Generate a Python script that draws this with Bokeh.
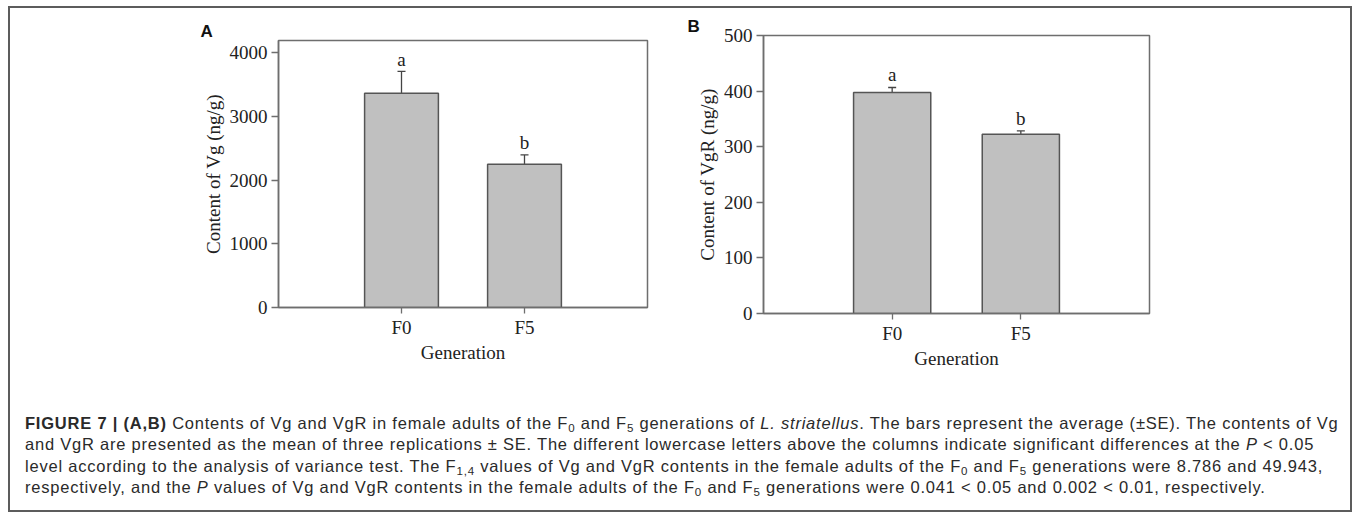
from bokeh.plotting import figure
from bokeh.models import (FactorRange, Range1d, FixedTicker, ColumnDataSource, Whisker,
                          TeeHead, Title, Div, Spacer)
from bokeh.layouts import row, column
from bokeh.core.properties import value
from bokeh.embed import file_html
from bokeh.resources import INLINE

# ---------------- data ----------------
generations = ["F0", "F5"]
vg_mean = [3361, 2248]
vg_se = [346, 147]
vg_letters = ["a", "b"]
vg_ticks = [0, 1000, 2000, 3000, 4000]

vgr_mean = [397.5, 322.5]
vgr_se = [9.0, 5.9]
vgr_letters = ["a", "b"]
vgr_ticks = [0, 100, 200, 300, 400, 500]

SERIF = "Liberation Serif"
AXIS_COL = "#6e6e6e"
BAR_FILL = "#c0c0c0"
BAR_LINE = "#555555"
FS = "19px"


def panel(mean, se, letters, ticks, ymax, ylabel, panel_letter,
          fw, fh, bl, bt, br, bb, letter_offset, letter_off):
    upper = [m + s for m, s in zip(mean, se)]
    src = ColumnDataSource(dict(x=generations, top=mean, upper=upper, lab=letters))
    p = figure(x_range=FactorRange(factors=generations, range_padding=0.5),
               y_range=Range1d(0, ymax), title=None,
               frame_width=fw, frame_height=fh,
               min_border_left=bl, min_border_top=bt, min_border_right=br, min_border_bottom=bb,
               output_backend="svg", toolbar_location=None)
    p.grid.visible = False
    p.outline_line_color = AXIS_COL
    p.outline_line_width = 1.5
    p.background_fill_color = "white"
    p.border_fill_color = "white"

    p.vbar(x="x", top="top", bottom=0, width=0.6, source=src,
           fill_color=BAR_FILL, line_color=BAR_LINE, line_width=1.5)
    w = Whisker(base="x", upper="upper", lower="top", source=src,
                line_color="#444444", line_width=1.3,
                upper_head=TeeHead(size=8, line_color="#444444", line_width=1.3),
                lower_head=None)
    p.add_layout(w)
    p.text(x="x", y="upper", text="lab", source=src, text_align="center",
           text_baseline="bottom", y_offset=-letter_off,
           text_font=value(SERIF), text_font_size=FS, text_color="#222222")

    for ax in (p.xaxis[0], p.yaxis[0]):
        ax.axis_line_color = AXIS_COL
        ax.axis_line_width = 1.5
        ax.major_tick_line_color = AXIS_COL
        ax.major_tick_line_width = 1.3
        ax.major_tick_in = 0
        ax.minor_tick_line_color = None
        ax.major_label_text_font = SERIF
        ax.major_label_text_font_size = FS
        ax.major_label_text_color = "#222222"
        ax.axis_label_text_font = SERIF
        ax.axis_label_text_font_size = FS
        ax.axis_label_text_font_style = "normal"
        ax.axis_label_text_color = "#222222"
    p.yaxis[0].ticker = FixedTicker(ticks=ticks)
    p.yaxis[0].major_tick_out = 7
    p.yaxis[0].major_label_standoff = 4
    p.yaxis[0].axis_label = ylabel
    p.yaxis[0].axis_label_standoff = 3
    p.xaxis[0].major_tick_out = 6
    p.xaxis[0].major_label_standoff = 3
    p.xaxis[0].axis_label = "Generation"
    p.xaxis[0].axis_label_standoff = 1

    t = Title(text=panel_letter, align="left", offset=letter_offset, standoff=0,
              text_font="Liberation Sans", text_font_style="bold",
              text_font_size="17px", text_color="#111111", vertical_align="bottom")
    p.add_layout(t, "above")
    return p


pA = panel(vg_mean, vg_se, vg_letters, vg_ticks, 4190, "Content of Vg (ng/g)", "A",
           fw=369, fh=267, bl=268, bt=32, br=30, bb=69, letter_offset=-78, letter_off=1.5)
pB = panel(vgr_mean, vgr_se, vgr_letters, vgr_ticks, 500, "Content of VgR (ng/g)", "B",
           fw=386, fh=278, bl=86, bt=27, br=201, bb=63, letter_offset=-76, letter_off=2)

caption_lines = [
    "<b>FIGURE 7 | (A,B)</b> Contents of Vg and VgR in female adults of the F<sub>0</sub> and F<sub>5</sub> "
    "generations of <i>L. striatellus</i>. The bars represent the average (&plusmn;SE). The contents of Vg",
    "and VgR are presented as the mean of three replications &plusmn; SE. The different lowercase letters "
    "above the columns indicate significant differences at the <i>P</i> &lt; 0.05",
    "level according to the analysis of variance test. The F<sub>1,4</sub> values of Vg and VgR contents in "
    "the female adults of the F<sub>0</sub> and F<sub>5</sub> generations were 8.786 and 49.943,",
    "respectively, and the <i>P</i> values of Vg and VgR contents in the female adults of the F<sub>0</sub> "
    "and F<sub>5</sub> generations were 0.041 &lt; 0.05 and 0.002 &lt; 0.01, respectively.",
]
html = "<div style='white-space:nowrap'>" + "<br>".join(caption_lines) + "</div>"
html = html.replace("<sub>", "<sub style='font-size:70%;line-height:0;vertical-align:-0.25em'>")

cap = Div(text=html, width=1340, height=134,
          styles={"font-family": "Liberation Sans, Arial, sans-serif", "font-size": "16.5px",
                  "letter-spacing": "0.78px",
                  "line-height": "21.3px", "color": "#2a2a2a", "padding-top": "32px",
                  "padding-left": "10px", "box-sizing": "border-box"})

charts = row(column(pA), column(pB))
inner = column(charts, cap, width=1344, height=506,
               styles={"border": "2px solid #5c5c5c", "background": "white",
                       "box-sizing": "border-box"})
layout = column(Spacer(height=6), row(Spacer(width=8), inner))

open("out.html", "w").write(file_html(layout, INLINE))
